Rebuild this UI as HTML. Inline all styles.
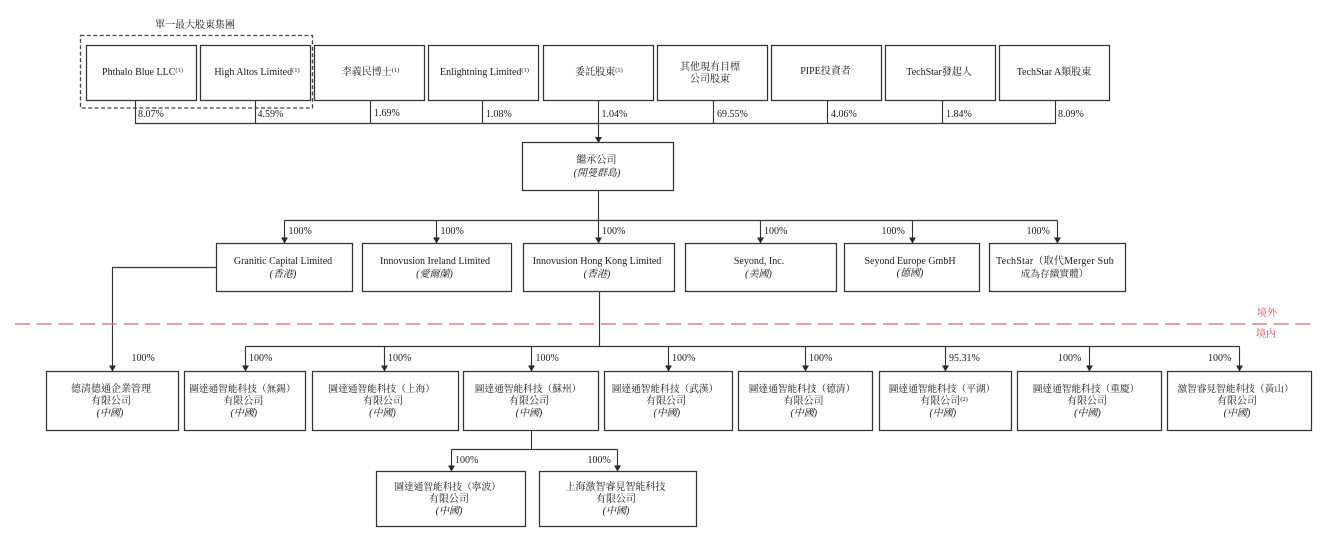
<!DOCTYPE html>
<html><head><meta charset="utf-8"><style>
html,body{margin:0;padding:0;background:#fff;width:1341px;height:550px;overflow:hidden}
svg{display:block}
text{font-family:"Liberation Serif","Noto Serif CJK TC","Noto Serif CJK SC",serif;font-size:10px;fill:#1a1a1a}
.m{text-anchor:middle}
.i{font-style:italic}
.c{font-size:9.7px}
.s{font-size:6.5px}
.r{fill:#c8505a}
.b{fill:#fff;stroke:#333;stroke-width:1.25}
.l{fill:none;stroke:#333;stroke-width:1.15}
</style></head><body>
<svg width="1341" height="550" viewBox="0 0 1341 550" xmlns="http://www.w3.org/2000/svg">
<defs><marker id="a" markerUnits="userSpaceOnUse" markerWidth="7" markerHeight="6" refX="3.5" refY="5.5" orient="0"><path d="M0 0H7L3.5 6Z" fill="#2a2a2a"/></marker></defs>

<!-- connectors -->
<g class="l">
<path d="M135.5 100V123.5H1055.5V100M255.5 100V123.5M370.5 100V123.5M482.5 100V123.5M713.5 100V123.5M827.5 100V123.5M942.5 100V123.5"/>
<path d="M598.5 100V142.5" marker-end="url(#a)"/>
<path d="M598.5 190V220.5"/>
<path d="M284.5 220.5H1057.5"/>
<path d="M284.5 220.5V243" marker-end="url(#a)"/>
<path d="M436.5 220.5V243" marker-end="url(#a)"/>
<path d="M598.5 220.5V243" marker-end="url(#a)"/>
<path d="M760.5 220.5V243" marker-end="url(#a)"/>
<path d="M912.5 220.5V243" marker-end="url(#a)"/>
<path d="M1057.5 220.5V243" marker-end="url(#a)"/>
<path d="M216.5 267.5H112.5V371" marker-end="url(#a)"/>
<path d="M599.5 291V346.5"/>
<path d="M245.5 346.5H1239.5"/>
<path d="M245.5 346.5V371" marker-end="url(#a)"/>
<path d="M384.5 346.5V371" marker-end="url(#a)"/>
<path d="M531.5 346.5V371" marker-end="url(#a)"/>
<path d="M668.5 346.5V371" marker-end="url(#a)"/>
<path d="M805.5 346.5V371" marker-end="url(#a)"/>
<path d="M945.5 346.5V371" marker-end="url(#a)"/>
<path d="M1089.5 346.5V371" marker-end="url(#a)"/>
<path d="M1239.5 346.5V371" marker-end="url(#a)"/>
<path d="M531.5 431V449.5"/>
<path d="M451.5 449.5H617.5"/>
<path d="M451.5 449.5V471" marker-end="url(#a)"/>
<path d="M617.5 449.5V471" marker-end="url(#a)"/>
</g>

<!-- boundary -->
<path d="M15 324H1312" fill="none" stroke="#d9808a" stroke-width="1.4" stroke-dasharray="15 6.7"/>
<text class="m r" x="1267" y="316">境外</text>
<text class="m r" x="1266" y="337">境內</text>

<!-- boxes -->
<g class="b">
<rect x="86.5" y="45.5" width="110" height="55"/>
<rect x="200.5" y="45.5" width="110" height="55"/>
<rect x="314.5" y="45.5" width="110" height="55"/>
<rect x="428.5" y="45.5" width="110" height="55"/>
<rect x="543.5" y="45.5" width="110" height="55"/>
<rect x="657.5" y="45.5" width="110" height="55"/>
<rect x="771.5" y="45.5" width="110" height="55"/>
<rect x="885.5" y="45.5" width="110" height="55"/>
<rect x="999.5" y="45.5" width="110" height="55"/>
<rect x="522.5" y="142.5" width="151" height="48"/>
<rect x="216.5" y="243.5" width="136" height="48"/>
<rect x="362.5" y="243.5" width="149" height="48"/>
<rect x="523.5" y="243.5" width="151" height="48"/>
<rect x="685.5" y="243.5" width="151" height="48"/>
<rect x="844.5" y="243.5" width="135" height="48"/>
<rect x="989.5" y="243.5" width="136" height="48"/>
<rect x="46.5" y="371.5" width="132" height="59"/>
<rect x="184.5" y="371.5" width="121" height="59"/>
<rect x="312.5" y="371.5" width="146" height="59"/>
<rect x="463.5" y="371.5" width="135" height="59"/>
<rect x="604.5" y="371.5" width="128" height="59"/>
<rect x="738.5" y="371.5" width="134" height="59"/>
<rect x="879.5" y="371.5" width="132" height="59"/>
<rect x="1017.5" y="371.5" width="144" height="59"/>
<rect x="1167.5" y="371.5" width="144" height="59"/>
<rect x="376.5" y="471.5" width="149" height="55"/>
<rect x="539.5" y="471.5" width="157" height="55"/>
</g>

<!-- dashed group -->
<rect x="80.5" y="35.5" width="232" height="72.5" fill="none" stroke="#444" stroke-width="1.3" stroke-dasharray="4 2.4"/>
<text class="m" x="195" y="28">單一最大股東集團</text>

<!-- top labels -->
<text class="m" x="142.5" y="75">Phthalo Blue LLC<tspan class="s" dy="-3">(1)</tspan></text>
<text class="m" x="257" y="75">High Altos Limited<tspan class="s" dy="-3">(1)</tspan></text>
<text class="m" x="370.5" y="75">李義民博士<tspan class="s" dy="-3">(1)</tspan></text>
<text class="m" x="484.5" y="75">Enlightning Limited<tspan class="s" dy="-3">(1)</tspan></text>
<text class="m" x="599" y="75">委託股東<tspan class="s" dy="-3">(1)</tspan></text>
<text class="m" x="710" y="70">其他現有目標</text>
<text class="m" x="710" y="82">公司股東</text>
<text class="m" x="825.5" y="74">PIPE投資者</text>
<text class="m" x="939" y="75">TechStar發起人</text>
<text class="m" x="1054" y="75">TechStar A類股東</text>

<!-- percents top -->
<text x="138" y="117">8.07%</text>
<text x="257.5" y="117">4.59%</text>
<text x="374" y="116">1.69%</text>
<text x="486" y="117">1.08%</text>
<text x="601.5" y="117">1.04%</text>
<text x="717" y="117">69.55%</text>
<text x="831" y="117">4.06%</text>
<text x="946" y="117">1.84%</text>
<text x="1058" y="117">8.09%</text>

<text class="m" x="596.5" y="163">繼承公司</text>
<text class="m i" x="597" y="176">(開曼群島)</text>

<!-- row 2 -->
<text x="288.5" y="234">100%</text>
<text x="440.5" y="234">100%</text>
<text x="602" y="234">100%</text>
<text x="764" y="234">100%</text>
<text x="881.5" y="234">100%</text>
<text x="1026.5" y="234">100%</text>
<text class="m" x="283" y="264">Granitic Capital Limited</text>
<text class="m i" x="283" y="277">(香港)</text>
<text class="m" x="435" y="264">Innovusion Ireland Limited</text>
<text class="m i" x="434.5" y="277">(愛爾蘭)</text>
<text class="m" x="597" y="264">Innovusion Hong Kong Limited</text>
<text class="m i" x="597" y="277">(香港)</text>
<text class="m" x="759" y="264">Seyond, Inc.</text>
<text class="m i" x="758.5" y="277">(美國)</text>
<text class="m" x="910" y="264">Seyond Europe GmbH</text>
<text class="m i" x="910" y="276">(德國)</text>
<text class="m" x="1055" y="264" letter-spacing="0.25">TechStar（取代Merger Sub</text>
<text class="m c" x="1054.5" y="277">成為存續實體）</text>

<!-- row 3 -->
<text x="131.5" y="361">100%</text>
<text x="249" y="361">100%</text>
<text x="388" y="361">100%</text>
<text x="535.5" y="361">100%</text>
<text x="672" y="361">100%</text>
<text x="809" y="361">100%</text>
<text x="949" y="361">95.31%</text>
<text x="1058" y="361">100%</text>
<text x="1208" y="361">100%</text>

<text class="m" x="111" y="392">德清德通企業管理</text><text class="m" x="111" y="404">有限公司</text><text class="m i" x="110" y="416">(中國)</text>
<text class="m c" x="242.4" y="392">圖達通智能科技（無錫）</text><text class="m" x="243.4" y="404">有限公司</text><text class="m i" x="243.8" y="416">(中國)</text>
<text class="m c" x="381.7" y="392">圖達通智能科技（上海）</text><text class="m" x="383" y="404">有限公司</text><text class="m i" x="382.5" y="416">(中國)</text>
<text class="m c" x="528" y="392">圖達通智能科技（蘇州）</text><text class="m" x="529" y="404">有限公司</text><text class="m i" x="529" y="416">(中國)</text>
<text class="m c" x="665" y="392">圖達通智能科技（武漢）</text><text class="m" x="666" y="404">有限公司</text><text class="m i" x="666.8" y="416">(中國)</text>
<text class="m c" x="802" y="392">圖達通智能科技（德清）</text><text class="m" x="803.6" y="404">有限公司</text><text class="m i" x="803.8" y="416">(中國)</text>
<text class="m c" x="942" y="392">圖達通智能科技（平湖）</text><text class="m" x="944" y="404">有限公司<tspan class="s" dy="-3">(2)</tspan></text><text class="m i" x="942.8" y="416">(中國)</text>
<text class="m c" x="1086" y="392">圖達通智能科技（重慶）</text><text class="m" x="1087" y="404">有限公司</text><text class="m i" x="1087.4" y="416">(中國)</text>
<text class="m c" x="1235.6" y="392">激智睿見智能科技（黃山）</text><text class="m" x="1237" y="404">有限公司</text><text class="m i" x="1237" y="416">(中國)</text>

<!-- row 4 -->
<text x="455" y="463">100%</text>
<text x="587.5" y="463">100%</text>
<text class="m c" x="447.6" y="490">圖達通智能科技（寧波）</text><text class="m" x="449" y="502">有限公司</text><text class="m i" x="449" y="514">(中國)</text>
<text class="m" x="615.5" y="490">上海激智睿見智能科技</text><text class="m" x="616" y="502">有限公司</text><text class="m i" x="616" y="514">(中國)</text>
</svg>
</body></html>
